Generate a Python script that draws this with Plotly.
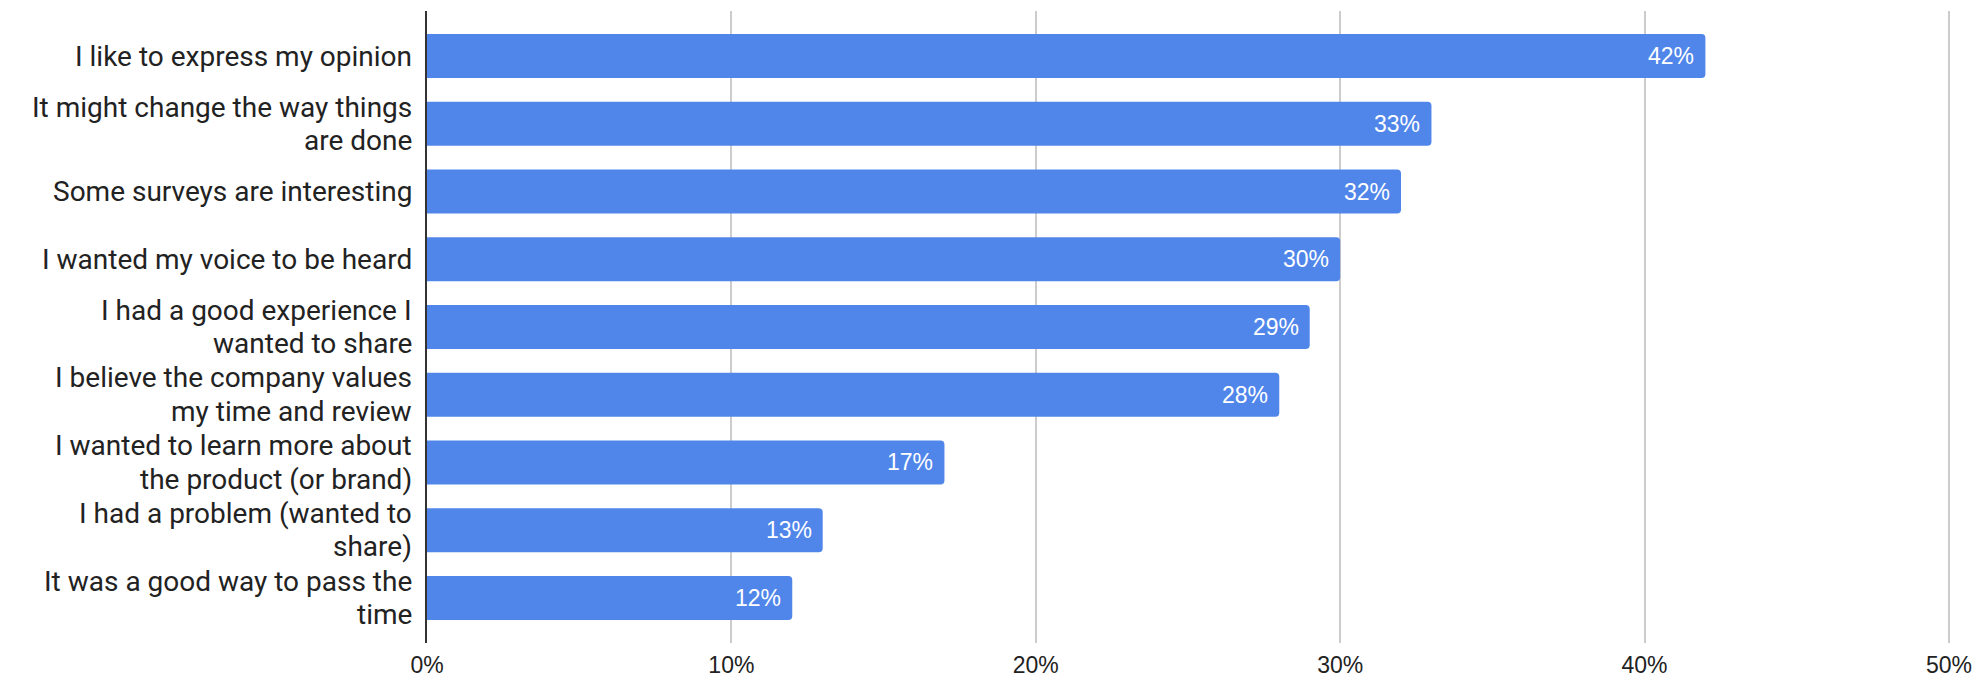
import plotly.graph_objects as go

categories = [
    "I like to express my opinion",
    "It might change the way things\nare done",
    "Some surveys are interesting",
    "I wanted my voice to be heard",
    "I had a good experience I\nwanted to share",
    "I believe the company values\nmy time and review",
    "I wanted to learn more about\nthe product (or brand)",
    "I had a problem (wanted to\nshare)",
    "It was a good way to pass the\ntime",
]
values = [0.42, 0.33, 0.32, 0.30, 0.29, 0.28, 0.17, 0.13, 0.12]
x_ticks = [0, 0.1, 0.2, 0.3, 0.4, 0.5]
x_ticklabels = ["0%", "10%", "20%", "30%", "40%", "50%"]

BAR = "#5086ea"
LINE_H = 33.5

fig = go.Figure(go.Bar(
    x=values,
    y=categories,
    orientation="h",
    marker=dict(color=BAR, line=dict(width=0)),
    hoverinfo="skip",
))

for c, v in zip(categories, values):
    fig.add_annotation(
        x=v, y=c, xref="x", yref="y",
        text=f"{round(v*100)}%",
        xanchor="right", yanchor="middle", xshift=-9,
        showarrow=False,
        font=dict(family="Liberation Sans, Arial", size=23, color="white"),
    )
    lines = c.split("\n")
    n = len(lines)
    for i, ln in enumerate(lines):
        off = ((n - 1) / 2 - i) * LINE_H
        fig.add_annotation(
            x=0, y=c, xref="paper", yref="y",
            text=ln, xanchor="right", yanchor="middle",
            xshift=-13, yshift=off, showarrow=False,
            font=dict(family="Roboto", size=28, color="#222222"),
        )

fig.update_layout(
    width=1976, height=690,
    margin=dict(l=419, r=29, t=3, b=55),
    paper_bgcolor="white", plot_bgcolor="white",
    bargap=0.35,
    barcornerradius=4,
    showlegend=False,
)
fig.update_xaxes(
    range=[0, 0.502], tickvals=x_ticks, ticktext=x_ticklabels,
    showgrid=True, gridcolor="#cccccc", gridwidth=1.5,
    zeroline=False, showline=False,
    tickfont=dict(family="Liberation Sans, Arial", size=23, color="#222222"),
    ticks="", ticklabelstandoff=6,
)
fig.update_yaxes(
    categoryorder="array", categoryarray=categories,
    range=[8.665, -0.665],
    showgrid=False, zeroline=False,
    showline=True, linecolor="#333333", linewidth=2,
    showticklabels=False, ticks="",
)

fig.write_html("out.html")
